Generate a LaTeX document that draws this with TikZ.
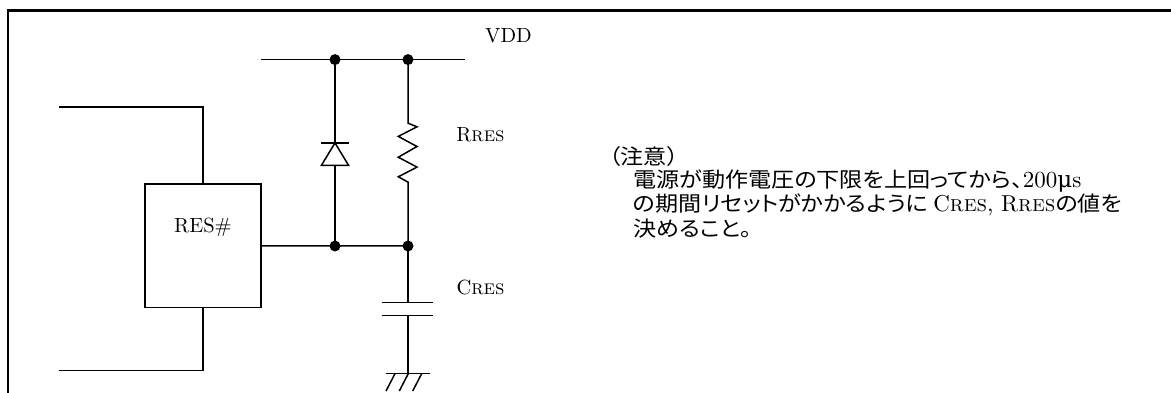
\documentclass[tikz,border=0pt]{standalone}
\usepackage{fontspec}
\setmainfont{lmroman10-regular.otf}[SmallCapsFont=lmromancaps10-regular.otf]
\newfontfamily\jpf[RawFeature=+palt, FakeStretch=1.1]{Noto Sans CJK JP}
\newfontfamily\dvserif{DejaVu Serif}
\newcommand\latn[1]{{\rmfamily\fontsize{23bp}{27bp}\selectfont #1}}
\begin{document}
\begin{tikzpicture}[x=1bp,y=-1bp,
  wire/.style={line width=1.5bp},
  frame/.style={line width=2.5bp},
  dot/.style={circle,fill=black,inner sep=0pt,minimum size=11bp},
  lbl/.style={font=\fontsize{20.5bp}{25bp}\selectfont, inner sep=0pt},
  jtxt/.style={font=\jpf\fontsize{21bp}{25bp}\selectfont, inner sep=0pt, anchor=west}]
\useasboundingbox (0,0) rectangle (1171,392);
\draw[frame] (8,400) -- (8,10.5) -- (1180,10.5);
% junctions
\coordinate (vl) at (261,59.6);
\coordinate (vr) at (465,59.6);
\coordinate (jdt) at (335,59.6);
\coordinate (jrt) at (408,59.6);
\coordinate (jdb) at (335,246);
\coordinate (jrb) at (408,246);
% chip
\node[draw, wire, minimum width=116bp, minimum height=123.5bp, inner sep=0pt] (ic) at (203,245.75) {};
\node[lbl] (resn) at (203,227) {RES\#};
\coordinate (ul) at (59,107);
\coordinate (ll) at (59,370.7);
\draw[wire] (ul) -| (ic.north);
\draw[wire] (ic.south) |- (ll);
\draw[wire] (ic.east) -- (jrb);
% VDD bus
\draw[wire] (vl) -- (vr);
% diode
\coordinate (dk) at (335,142.9);
\coordinate (da) at (335,165.4);
\draw[wire] (jdt) -- (dk);
\draw[wire] (da) -- (jdb);
\draw[wire] ([xshift=-13.6bp]dk) -- ([xshift=13.6bp]dk);
\draw[wire] (dk) -- ([xshift=13.6bp]da) -- ([xshift=-13.6bp]da) -- cycle;
% resistor
\coordinate (rt) at (408,123.2);
\coordinate (rb) at (408,182.1);
\draw[wire] (jrt) -- (rt) -- (417,126.8) -- (398.3,136.4) -- (417,146.5) -- (398.3,157.2) -- (417,167.1) -- (398.3,176.8) -- (rb) -- (jrb);
% capacitor
\coordinate (c1) at (408,302.5);
\coordinate (c2) at (408,315.4);
\coordinate (gnd) at (408,373.6);
\draw[wire] (jrb) -- (c1);
\draw[wire] ([xshift=-26bp]c1) -- ([xshift=25bp]c1);
\draw[wire] ([xshift=-26bp]c2) -- ([xshift=25bp]c2);
\draw[wire] (c2) -- (gnd);
% ground
\draw[wire] ([xshift=-22bp]gnd) -- ([xshift=22bp]gnd);
\draw[wire] (395,373.6) -- (386,391);
\draw[wire] (408.3,373.6) -- (399.3,391);
\draw[wire] (421.7,373.6) -- (412.7,391);
% dots
\node[dot] (d1) at (jdt) {};
\node[dot] (d2) at (jrt) {};
\node[dot] (d3) at (jdb) {};
\node[dot] (d4) at (jrb) {};
% labels
\node[lbl] (vdd) at (508.5,35.7) {VDD};
\node[lbl] (rres) at (480.5,135) {R\textsc{res}};
\node[lbl] (cres) at (480.5,287) {C\textsc{res}};
% note
\node[jtxt] (t0) at (609,157) {（注意）};
\node[jtxt] (t1) at (633,181.5) {電源が動作電圧の下限を上回ってから、\latn{200{\dvserif μ}s}};
\node[jtxt] (t2) at (633,205) {の期間リセットがかかるように \latn{C\textsc{res}, R\textsc{res}}の値を};
\node[jtxt] (t3) at (633,228.5) {決めること。};
\end{tikzpicture}
\end{document}
